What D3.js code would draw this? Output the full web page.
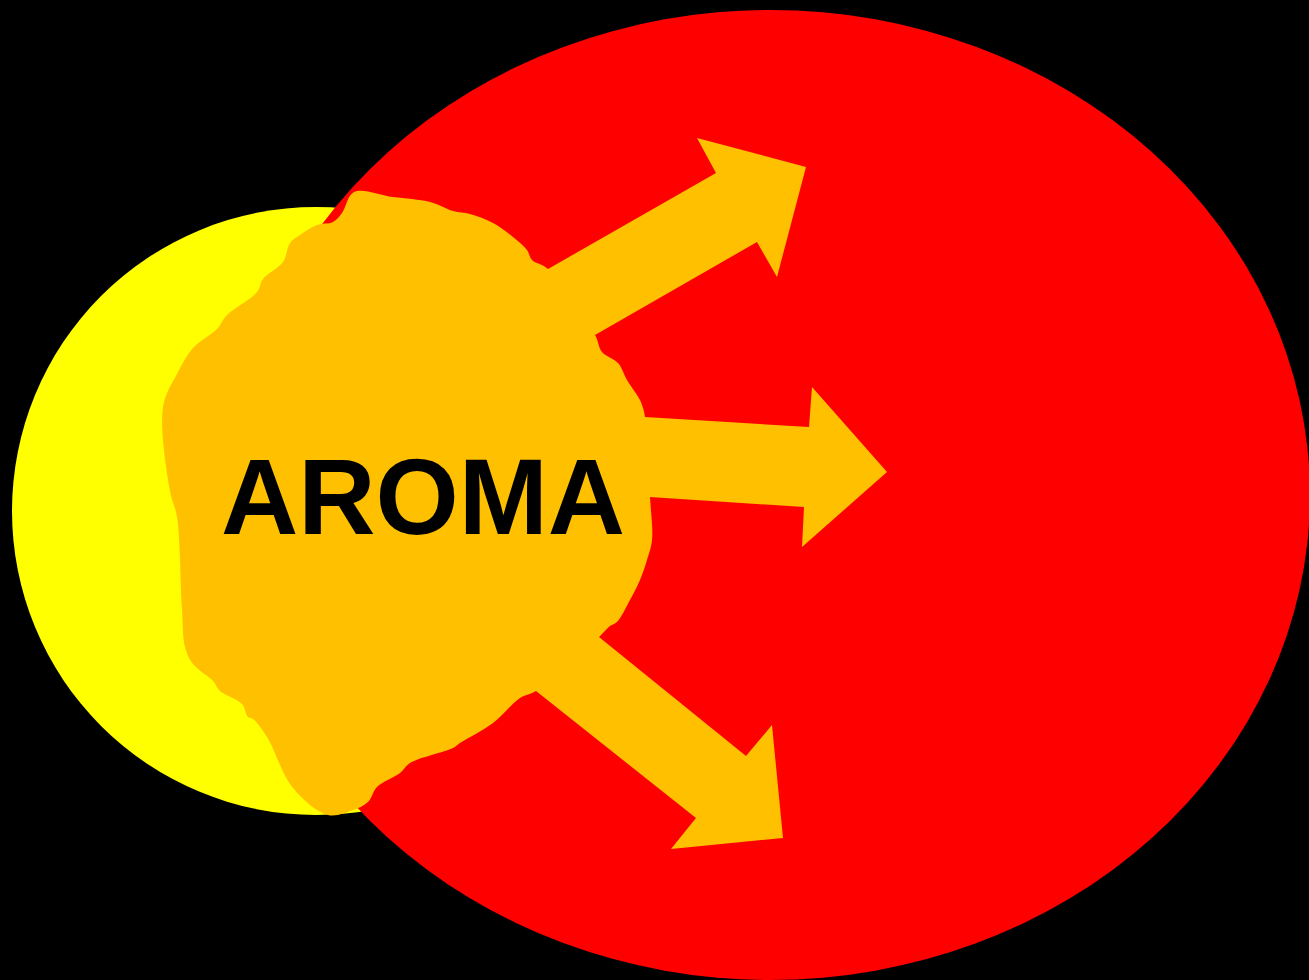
<!DOCTYPE html>
<html>
<head>
<meta charset="utf-8">
<script src="https://cdn.jsdelivr.net/npm/d3@7/dist/d3.min.js"></script>
<style>
    html, body { margin: 0; padding: 0; background: #000; overflow: hidden; }
</style>
</head>
<body>
<div id="chart"></div>
<script>
// shapes, in drawing units (drawn back to front)
const ellipses = [
    { name: "inner", cx: 316, cy: 511, rx: 304, ry: 304, color: "#FFFF00" },
    { name: "outer", cx: 770, cy: 495, rx: 540, ry: 485, color: "#FF0000" }
];

const blob = [
    [354, 192], [393, 197], [430, 202], [453, 211], [470, 214], [493, 223], [513, 237], [527, 250],
    [532, 260], [548, 269], [595, 335], [602, 352], [618, 363], [627, 380], [640, 400], [643, 408],
    [645, 417], [650, 497], [652, 540], [647, 560], [640, 580], [630, 600], [617, 622], [610, 626],
    [599, 637], [536, 691], [520, 698], [493, 723], [460, 743], [453, 748], [410, 763], [400, 773],
    [377, 787], [368, 802], [353, 810], [328, 815], [293, 788], [267, 737], [253, 719], [248, 717],
    [242, 704], [220, 691], [213, 681], [193, 664], [185, 647], [182, 609], [177, 517], [170, 491],
    [163, 407], [177, 374], [193, 348], [217, 329], [227, 315], [257, 292], [263, 279], [283, 262],
    [290, 243], [300, 235], [317, 225], [333, 222], [342, 213]
];

// each arrow starts and ends on a blob vertex
const arrowUp = [[548, 269], [716, 173], [697, 138], [806, 167], [777, 277], [757, 242], [595, 335]];
const arrowMid = [[645, 417], [809, 427], [812, 387], [887, 472], [802, 547], [804, 507], [650, 497]];
const arrowDown = [[599, 637], [746, 756], [772, 725], [783, 838], [671, 849], [696, 818], [536, 691]];

const labels = ["AROMA"];

let width = 1309;
let height = 980;

let x = d3.scaleLinear().domain([0, 1309]).range([0, width]);
let y = d3.scaleLinear().domain([0, 980]).range([0, height]);

let svg = d3.select("#chart").append("svg")
    .attr("width", width)
    .attr("height", height)
    .style("display", "block");

svg.append("rect")
    .attr("width", width)
    .attr("height", height)
    .attr("fill", "#000");

svg.selectAll("ellipse")
    .data(ellipses)
    .enter()
    .append("ellipse")
    .attr("cx", d => x(d.cx))
    .attr("cy", d => y(d.cy))
    .attr("rx", d => x(d.rx) - x(0))
    .attr("ry", d => y(d.ry) - y(0))
    .attr("fill", d => d.color);

// smooth wavy blob
let smooth = d3.line()
    .x(d => x(d[0]))
    .y(d => y(d[1]))
    .curve(d3.curveCatmullRomClosed.alpha(0.5));

svg.append("path")
    .datum(blob)
    .attr("d", smooth)
    .attr("fill", "#FFC000");

// arrows: push the base back into the blob so no seam shows
let sharp = d3.line()
    .x(d => x(d[0]))
    .y(d => y(d[1]))
    .curve(d3.curveLinearClosed);

function withBase(a) {
    let n = a.length;
    let dx = a[1][0] - a[0][0], dy = a[1][1] - a[0][1];
    let len = Math.sqrt(dx * dx + dy * dy);
    let k = 40 / len;
    let back = p => [p[0] - dx * k, p[1] - dy * k];
    return [back(a[0])].concat(a.slice(0, n)).concat([back(a[n - 1])]);
}

svg.selectAll("path.arrow")
    .data([arrowUp, arrowMid, arrowDown])
    .enter()
    .append("path")
    .attr("class", "arrow")
    .attr("d", d => sharp(withBase(d)))
    .attr("fill", "#FFC000");

svg.selectAll("text")
    .data(labels)
    .enter()
    .append("text")
    .attr("x", x(423))
    .attr("y", y(534))
    .attr("text-anchor", "middle")
    .attr("font-family", "'Liberation Sans', Arial, sans-serif")
    .attr("font-weight", "bold")
    .attr("font-size", 107)
    .attr("fill", "#000")
    .text(d => d);
</script>
</body>
</html>
